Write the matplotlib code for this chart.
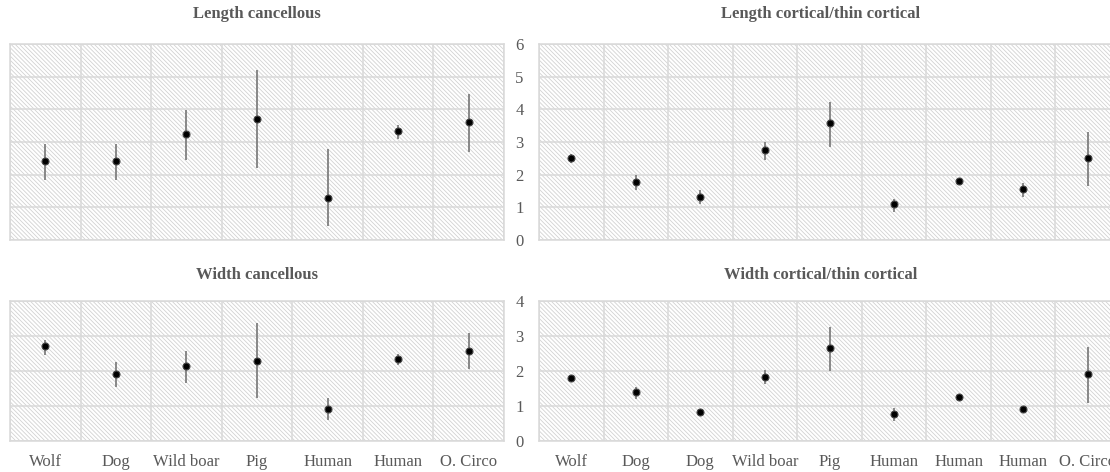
"""Bone measurements by species: mean values with ranges, four panels."""

import matplotlib

matplotlib.use("Agg")

import matplotlib.pyplot as plt
from matplotlib.patches import Rectangle
import numpy as np


# Length cancellous
LC_SPECIES = ["Wolf", "Dog", "Wild boar", "Pig", "Human", "Human", "O. Circo"]
LC_MEAN = [2.41, 2.41, 3.26, 3.71, 1.29, 3.34, 3.60]
LC_LOW = [1.85, 1.85, 2.46, 2.20, 0.43, 3.09, 2.69]
LC_HIGH = [2.95, 2.95, 3.97, 5.21, 2.80, 3.52, 4.48]

# Length cortical/thin cortical
LT_SPECIES = ["Wolf", "Dog", "Dog", "Wild boar", "Pig", "Human", "Human", "Human", "O. Circo"]
LT_MEAN = [2.52, 1.77, 1.32, 2.76, 3.57, 1.09, 1.82, 1.55, 2.52]
LT_LOW = [2.36, 1.52, 1.11, 2.46, 2.85, 0.86, 1.72, 1.31, 1.64]
LT_HIGH = [2.62, 1.99, 1.53, 2.99, 4.21, 1.26, 1.90, 1.75, 3.30]

# Width cancellous
WC_SPECIES = LC_SPECIES
WC_MEAN = [2.72, 1.92, 2.13, 2.30, 0.92, 2.34, 2.57]
WC_LOW = [2.45, 1.53, 1.66, 1.24, 0.60, 2.18, 2.07]
WC_HIGH = [2.90, 2.25, 2.56, 3.38, 1.23, 2.49, 3.08]

# Width cortical/thin cortical
WT_SPECIES = LT_SPECIES
WT_MEAN = [1.80, 1.39, 0.84, 1.84, 2.66, 0.77, 1.25, 0.91, 1.91]
WT_LOW = [1.71, 1.20, 0.76, 1.62, 2.00, 0.58, 1.18, 0.84, 1.10]
WT_HIGH = [1.89, 1.53, 0.91, 2.04, 3.27, 0.93, 1.31, 0.98, 2.69]

TEXT = "#595959"
GRID = "#d9d9d9"
HATCH = "#d2d2d2"

W, H = 1110, 472


def _axes(fig, left, top, right, bottom):
    return fig.add_axes([left / W, 1 - bottom / H, (right - left) / W, (bottom - top) / H])


def _panel(ax, species, mean, low, high, ymax, show_x, show_y):
    n = len(species)
    x = np.arange(n)
    mean = np.asarray(mean)
    err = [mean - np.asarray(low), np.asarray(high) - mean]

    ax.set_xlim(-0.5, n - 0.5)
    ax.set_ylim(0, ymax)
    ax.set_facecolor("white")
    ax.add_patch(Rectangle((0, 0), 1, 1, transform=ax.transAxes, facecolor="white",
                           edgecolor=HATCH, linewidth=0, hatch="\\" * 8, zorder=0))

    ax.set_xticks(x)
    ax.set_xticks(np.arange(n + 1) - 0.5, minor=True)
    ax.set_yticks(np.arange(ymax + 1))
    ax.grid(which="minor", axis="x", color=GRID, linewidth=1.1, zorder=1)
    ax.grid(which="major", axis="y", color=GRID, linewidth=1.1, zorder=1)
    ax.set_axisbelow(False)

    ax.errorbar(x, mean, yerr=err, fmt="o", color="black", ecolor="#7f7f7f",
                elinewidth=1.3, capsize=0, markersize=5,
                markeredgecolor="#444444", markeredgewidth=0.8, zorder=3)

    for sp in ax.spines.values():
        sp.set_color(GRID)
        sp.set_linewidth(1.1)

    ax.tick_params(which="both", length=0, colors=TEXT, labelsize=12)
    ax.tick_params(axis="x", pad=9)
    ax.tick_params(axis="y", pad=11)
    if show_x:
        ax.set_xticklabels(species)
    else:
        ax.set_xticklabels([])
    if not show_y:
        ax.set_yticklabels([])


def main():
    plt.rcParams["font.family"] = ["Liberation Serif", "DejaVu Serif"]
    plt.rcParams["hatch.linewidth"] = 0.6

    fig = plt.figure(figsize=(W / 100, H / 100), dpi=100)

    ax1 = _axes(fig, 10, 44, 504, 240)
    _panel(ax1, LC_SPECIES, LC_MEAN, LC_LOW, LC_HIGH, 6, False, False)
    ax2 = _axes(fig, 539, 44, 1120, 240)
    _panel(ax2, LT_SPECIES, LT_MEAN, LT_LOW, LT_HIGH, 6, False, True)
    ax3 = _axes(fig, 10, 301, 504, 441)
    _panel(ax3, WC_SPECIES, WC_MEAN, WC_LOW, WC_HIGH, 4, True, False)
    ax4 = _axes(fig, 539, 301, 1120, 441)
    _panel(ax4, WT_SPECIES, WT_MEAN, WT_LOW, WT_HIGH, 4, True, True)

    title_kw = dict(ha="center", va="center", color=TEXT, fontsize=12, fontweight="bold")
    fig.text(257 / W, 1 - 14 / H, "Length cancellous", **title_kw)
    fig.text(821 / W, 1 - 14 / H, "Length cortical/thin cortical", **title_kw)
    fig.text(257 / W, 1 - 275 / H, "Width cancellous", **title_kw)
    fig.text(821 / W, 1 - 275 / H, "Width cortical/thin cortical", **title_kw)

    fig.savefig("out.png", dpi=100)
    plt.close(fig)


if __name__ == "__main__":
    main()
